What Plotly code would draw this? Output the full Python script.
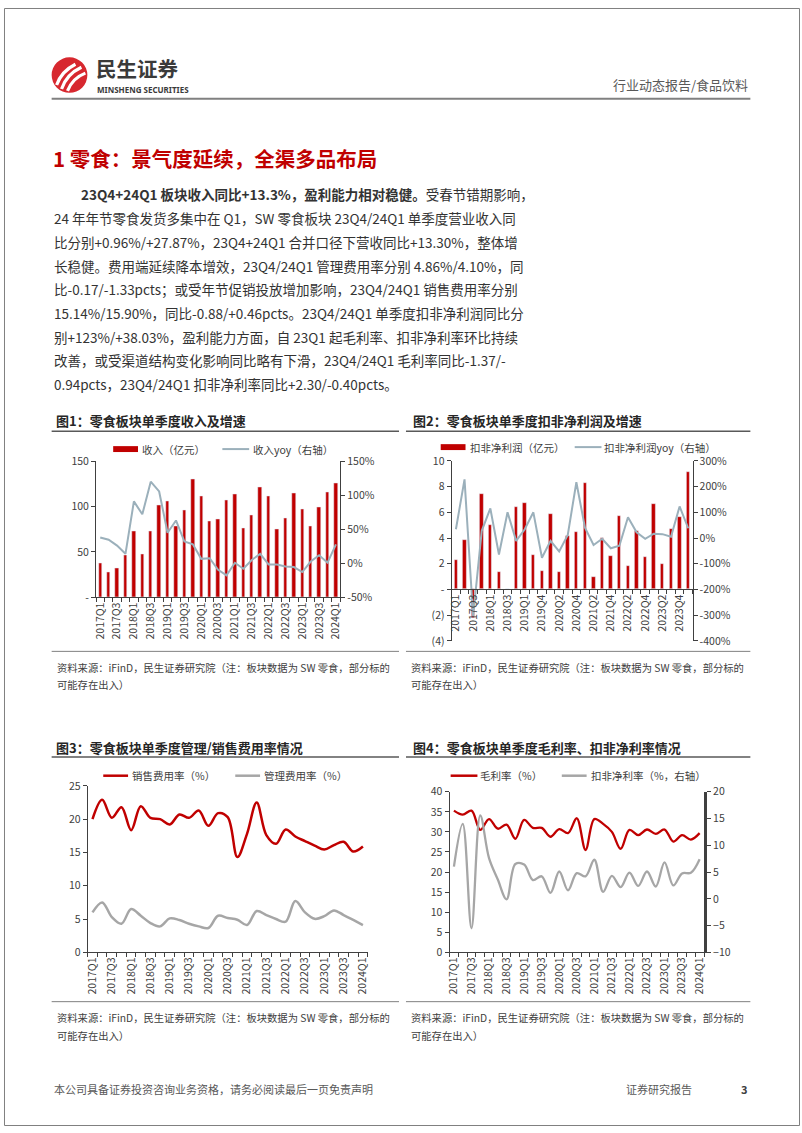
import plotly.graph_objects as go

W, H = 802, 1133
def X(p):
    return p / W
def Y(p):
    return 1 - p / H

FONT = "Noto Sans CJK SC"
RED = "#c00000"
GRAY = "#a6a6a6"
BLUEGRAY = "#9bb0bb"
AXC = "#404040"
TXT = "#404040"

# ---------------- data ----------------
quarters = ["2017Q1", "2017Q2", "2017Q3", "2017Q4", "2018Q1", "2018Q2", "2018Q3", "2018Q4",
            "2019Q1", "2019Q2", "2019Q3", "2019Q4", "2020Q1", "2020Q2", "2020Q3", "2020Q4",
            "2021Q1", "2021Q2", "2021Q3", "2021Q4", "2022Q1", "2022Q2", "2022Q3", "2022Q4",
            "2023Q1", "2023Q2", "2023Q3", "2023Q4", "2024Q1"]

revenue = [38, 27.5, 32.6, 47, 73, 48, 72.5, 101, 106, 78, 95.7, 130.4, 112, 84.4, 86, 106.5,
           114, 76, 91, 121.7, 112, 75.4, 87.7, 115, 97.5, 78.6, 99, 116.1, 125.4]
revenue_yoy = [38, 34.6, 26, 14, 91, 72, 120, 105.6, 45, 63, 32, 28, 6.6, 7.5, -9.4, -17.6,
               0.8, -8, 5, 14, -1.6, -1.6, -4.5, -5.5, -12.8, 2.7, 12, 0.96, 27.87]

quarters_profit = ["2017Q1", "2017Q2", "2017Q3", "2017Q4", "2018Q1", "2018Q2", "2018Q3", "2018Q4",
                   "2019Q1", "2019Q2", "2019Q4", "2020Q1", "2020Q2", "2020Q3", "2020Q4",
                   "2021Q1", "2021Q2", "2021Q3", "2021Q4", "2022Q1", "2022Q2", "2022Q3", "2022Q4",
                   "2023Q1", "2023Q2", "2023Q3", "2023Q4", "2024Q1"]
profit = [2.3, 3.84, -2.2, 7.47, 4.99, 1.36, 0.05, 6.39, 6.7, 2.71, 1.41, 5.88, 1.36, 4.14, 4.48,
          8.3, 0.97, 4.0, 2.6, 5.7, 1.8, 4.55, 2.53, 6.65, 2.0, 4.7, 5.68, 9.16]
profit_yoy = [34, 228, -305, 28, 115, -64, 100, -11, 34, 100, -77, -11, -52, 12, 217,
              40, -27, -3, -40, -30, 81, 22, -3, 17, 15, 5, 123, 38.03]

sales_rate = [20.0, 22.9, 20.2, 21.8, 18.35, 21.95, 20.2, 20.0, 19.2, 20.7, 20.2, 21.3, 19.0, 20.9,
              20.3, 14.3, 17.8, 22.5, 17.6, 16.3, 18.45, 17.4, 16.7, 16.02, 15.44, 16.1, 16.6,
              15.14, 15.90]
admin_rate = [6.0, 7.5, 5.3, 4.3, 6.5, 5.5, 4.4, 3.9, 5.1, 4.85, 4.3, 3.9, 3.65, 5.5, 5.15, 4.9,
              4.1, 6.2, 5.6, 5.0, 4.6, 7.7, 6.0, 5.03, 5.43, 6.3, 5.6, 4.86, 4.10]

gross_margin = [35.3, 34.3, 35.3, 30.5, 33.2, 30.8, 31.8, 28.3, 33.0, 31.0, 31.0, 28.8, 30.7, 29.7,
                33.4, 25.5, 33.2, 32.0, 30.0, 25.8, 30.5, 29.2, 30.6, 29.5, 30.6, 27.6, 29.2, 28.1,
                29.7]
net_margin = [6.0, 14.0, -5.5, 15.6, 7.6, 3.6, -0.1, 6.5, 6.4, 3.5, 4.2, 1.1, 5.1, 1.6, 4.8, 4.2,
              7.3, 1.3, 4.3, 2.2, 4.9, 2.4, 5.1, 2.3, 6.8, 2.5, 4.75, 4.87, 7.4]

y1_ticks = [0, 50, 100, 150]
y1_text = ["-", "50", "100", "150"]
y2_ticks = [-50, 0, 50, 100, 150]
y2_text = ["-50%", "0%", "50%", "100%", "150%"]
y3_ticks = [-4, -2, 0, 2, 4, 6, 8, 10]
y3_text = ["(4)", "(2)", "-", "2", "4", "6", "8", "10"]
y4_ticks = [-400, -300, -200, -100, 0, 100, 200, 300]
y4_text = ["-400%", "-300%", "-200%", "-100%", "0%", "100%", "200%", "300%"]

paragraph = [
    "<b>23Q4+24Q1 板块收入同比+13.3%，盈利能力相对稳健。</b>受春节错期影响，",
    "24 年年节零食发货多集中在 Q1，SW 零食板块 23Q4/24Q1 单季度营业收入同",
    "比分别+0.96%/+27.87%，23Q4+24Q1 合并口径下营收同比+13.30%，整体增",
    "长稳健。费用端延续降本增效，23Q4/24Q1 管理费用率分别 4.86%/4.10%，同",
    "比-0.17/-1.33pcts；或受年节促销投放增加影响，23Q4/24Q1 销售费用率分别",
    "15.14%/15.90%，同比-0.88/+0.46pcts。23Q4/24Q1 单季度扣非净利润同比分",
    "别+123%/+38.03%，盈利能力方面，自 23Q1 起毛利率、扣非净利率环比持续",
    "改善，或受渠道结构变化影响同比略有下滑，23Q4/24Q1 毛利率同比-1.37/-",
    "0.94pcts，23Q4/24Q1 扣非净利率同比+2.30/-0.40pcts。",
]
note_lines = ["资料来源：iFinD，民生证券研究院（注：板块数据为 SW 零食，部分标的",
              "可能存在出入）"]

# ---------------- figure ----------------
fig = go.Figure()
idx1 = list(range(len(quarters)))
idx2 = list(range(len(quarters_profit)))

fig.add_trace(go.Bar(x=idx1, y=revenue, name="收入（亿元）", marker_color=RED, width=0.4,
                     xaxis="x", yaxis="y", showlegend=False))
fig.add_trace(go.Scatter(x=idx1, y=revenue_yoy, name="收入yoy（右轴）", mode="lines",
                         line=dict(color=BLUEGRAY, width=2), xaxis="x", yaxis="y2", showlegend=False))
fig.add_trace(go.Bar(x=idx2, y=profit, name="扣非净利润（亿元）", marker_color=RED, width=0.4,
                     xaxis="x2", yaxis="y3", showlegend=False))
fig.add_trace(go.Scatter(x=idx2, y=profit_yoy, name="扣非净利润yoy（右轴）", mode="lines",
                         line=dict(color=BLUEGRAY, width=2), xaxis="x2", yaxis="y4", showlegend=False))
fig.add_trace(go.Scatter(x=idx1, y=sales_rate, name="销售费用率（%）", mode="lines",
                         line=dict(color=RED, width=2.5, shape="spline", smoothing=1),
                         xaxis="x3", yaxis="y5", showlegend=False))
fig.add_trace(go.Scatter(x=idx1, y=admin_rate, name="管理费用率（%）", mode="lines",
                         line=dict(color=GRAY, width=2.5, shape="spline", smoothing=1),
                         xaxis="x3", yaxis="y5", showlegend=False))
fig.add_trace(go.Scatter(x=idx1, y=net_margin, name="扣非净利率（%，右轴）", mode="lines",
                         line=dict(color=GRAY, width=2.3, shape="spline", smoothing=1),
                         xaxis="x4", yaxis="y7", showlegend=False))
fig.add_trace(go.Scatter(x=idx1, y=gross_margin, name="毛利率（%）", mode="lines",
                         line=dict(color=RED, width=2.3, shape="spline", smoothing=1),
                         xaxis="x4", yaxis="y6", showlegend=False))

tickfont = dict(family=FONT, size=10.5, color=TXT)

def xaxis(x0, x1, labels, **kw):
    n = len(labels)
    d = dict(domain=[X(x0), X(x1)], range=[-0.5, n - 0.5], tickmode="array",
             tickvals=list(range(0, n, 2)), ticktext=labels[::2], tickangle=-90,
             ticks="", showline=True, linecolor=AXC, linewidth=1, showgrid=False,
             zeroline=False, tickfont=tickfont, fixedrange=True,
             minor=dict(tickmode="linear", tick0=-0.5, dtick=1, ticks="outside",
                        ticklen=4, tickcolor=AXC, tickwidth=1, showgrid=False))
    d.update(kw)
    return d

def yaxis(y0, y1, rng, **kw):
    d = dict(domain=[Y(y1), Y(y0)], range=rng, showline=True, linecolor=AXC, linewidth=1,
             ticks="outside", ticklen=4, tickcolor=AXC, showgrid=False, zeroline=False,
             tickfont=tickfont, fixedrange=True)
    d.update(kw)
    return d

zero2 = 589.3

fig.update_layout(
    width=W, height=H, margin=dict(l=0, r=0, t=0, b=0),
    paper_bgcolor="white", plot_bgcolor="rgba(0,0,0,0)",
    bargap=0, showlegend=False,
    xaxis=xaxis(92.7, 338.7, quarters, anchor="y"),
    yaxis=yaxis(459.3, 597.3, [0, 150], anchor="x", tickmode="array",
                tickvals=y1_ticks, ticktext=y1_text),
    yaxis2=yaxis(459.3, 597.3, [-50, 150], anchor="x", overlaying="y", side="right",
                 tickmode="array", tickvals=y2_ticks, ticktext=y2_text),
    xaxis2=xaxis(451, 693.7, quarters_profit, anchor="free", position=Y(zero2)),
    yaxis3=yaxis(459, 641.3, [-4, 10], anchor="x2", tickmode="array",
                 tickvals=y3_ticks, ticktext=y3_text),
    yaxis4=yaxis(459, 641.3, [-400, 300], anchor="x2", overlaying="y3", side="right",
                 tickmode="array", tickvals=y4_ticks, ticktext=y4_text),
    xaxis3=xaxis(84.3, 366.5, quarters, anchor="y5"),
    yaxis5=yaxis(788.3, 957, [0, 25], anchor="x3", dtick=5, tick0=0),
    xaxis4=xaxis(448.9, 705.3, quarters, anchor="y6"),
    yaxis6=yaxis(794.3, 957, [0, 40], anchor="x4", dtick=5, tick0=0),
    yaxis7=yaxis(794.3, 957, [-10, 20], anchor="x4", overlaying="y6", side="right",
                 dtick=5, tick0=-10, linewidth=3),
)

shapes = []
ann = []

def line(x0, y0, x1, y1, color, width):
    shapes.append(dict(type="line", xref="paper", yref="paper", x0=X(x0), y0=Y(y0),
                       x1=X(x1), y1=Y(y1), line=dict(color=color, width=width)))

def rect(x0, y0, x1, y1, color):
    shapes.append(dict(type="rect", xref="paper", yref="paper", x0=X(x0), y0=Y(y1),
                       x1=X(x1), y1=Y(y0), line=dict(width=0), fillcolor=color))

def text(x, y, s, size, color=TXT, bold=False, xanchor="left", family=FONT):
    if bold:
        s = "<b>" + s + "</b>"
    ann.append(dict(xref="paper", yref="paper", x=X(x), y=Y(y), text=s, showarrow=False,
                    xanchor=xanchor, yanchor="middle",
                    font=dict(family=family, size=size, color=color)))

# page border
shapes.append(dict(type="rect", xref="paper", yref="paper", x0=X(0.5), y0=Y(1132.5),
                   x1=X(801.5), y1=Y(0.5), line=dict(color="#808080", width=1)))

# logo
shapes.append(dict(type="circle", xref="paper", yref="paper", x0=X(48), x1=X(84),
                   y0=Y(86), y1=Y(50), fillcolor="#d7282f", line=dict(width=0)))
def qpath(pts):
    (a, b), (c, d), (e, f) = pts
    return "M %f %f Q %f %f %f %f" % (X(a), Y(b), X(c), Y(d), X(e), Y(f))
for p in [((53, 78), (58, 64), (72, 57)), ((58, 82), (63, 67), (78, 60)), ((64, 84), (69, 71), (82, 66))]:
    shapes.append(dict(type="path", xref="paper", yref="paper", path=qpath(p),
                       line=dict(color="white", width=3.2)))
text(91, 60.5, "民生证券", 20.5, color="#3a3a3a", bold=True)
text(92, 82.5, "MINSHENG SECURITIES", 8, color="#3a3a3a", bold=True, family="Noto Sans")
text(752, 78, "行业动态报告/食品饮料", 13, color="#595959", xanchor="right")
line(48, 92, 752, 92, "#808080", 2)

# section title + paragraph
text(47, 152, "1 零食：景气度延续，全渠多品布局", 20.5, color=RED, bold=True)
for i, s in enumerate(paragraph):
    text(76 if i == 0 else 48, 189 + 24 * i, s, 13.5, color="#333333")

# chart titles
text(50, 418, "图1：零食板块单季度收入及增速", 13, color="#262626", bold=True)
text(410, 418, "图2：零食板块单季度扣非净利润及增速", 13, color="#262626", bold=True)
text(50, 749, "图3：零食板块单季度管理/销售费用率情况", 13, color="#262626", bold=True)
text(410, 749, "图4：零食板块单季度毛利率、扣非净利率情况", 13, color="#262626", bold=True)
for yy in (429, 759):
    line(48, yy, 398, yy, "#595959", 1.5)
    line(405, yy, 752, yy, "#595959", 1.5)

# legends
LF = 10.5
rect(110, 444, 135, 450, RED)
text(137, 447, "收入（亿元）", LF)
line(220, 447, 247, 447, BLUEGRAY, 2)
text(249, 447, "收入yoy（右轴）", LF)
rect(440, 442, 465, 448, RED)
text(467, 445, "扣非净利润（亿元）", LF)
line(575, 445, 602, 445, BLUEGRAY, 2)
text(603, 445, "扣非净利润yoy（右轴）", LF)
line(100, 778, 125, 778, RED, 2.5)
text(127, 778, "销售费用率（%）", LF)
line(233, 778, 258, 778, GRAY, 2.5)
text(260, 778, "管理费用率（%）", LF)
line(450, 778, 477, 778, RED, 2.5)
text(478, 778, "毛利率（%）", LF)
line(562, 778, 587, 778, GRAY, 2.5)
text(589, 778, "扣非净利率（%，右轴）", LF)

# source notes
for yy, xs in ((652, (48, 398, 51)), (652, (405, 752, 408)), (1007, (48, 398, 51)), (1007, (405, 752, 408))):
    line(xs[0], yy, xs[1], yy, "#808080", 1)
    for j, s in enumerate(note_lines):
        text(xs[2], yy + 16 + 18 * j, s, 10.3, color="#404040")

# footer
text(48, 1096, "本公司具备证券投资咨询业务资格，请务必阅读最后一页免责声明", 11, color="#595959")
text(625, 1096, "证券研究报告", 11, color="#595959")
text(741, 1096, "3", 11, color="#404040", bold=True)

fig.update_layout(shapes=shapes, annotations=ann)
fig.write_html("out.html")
